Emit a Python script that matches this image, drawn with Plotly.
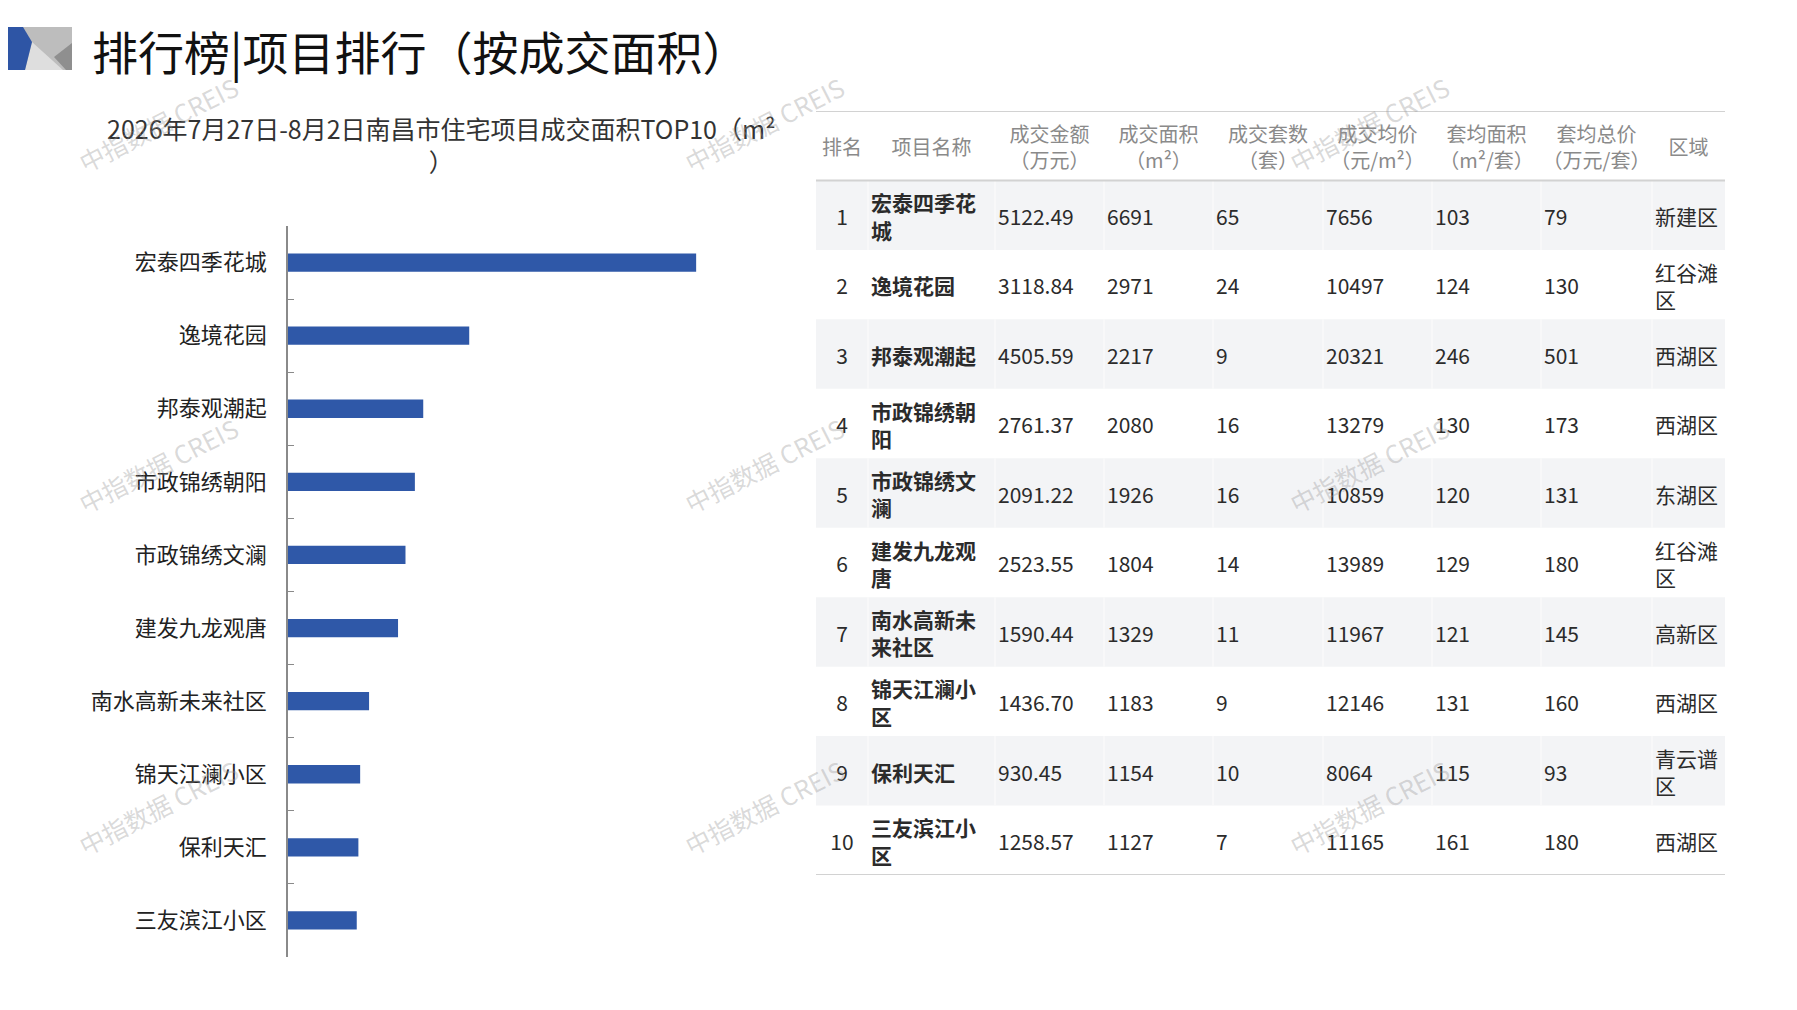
import plotly.graph_objects as go

W, H = 1797, 1010          # browser window
OFF = 8                    # default page body margin
WF, HF = W - 2 * OFF, H - 2 * OFF

# ---------------- data ----------------
projects = ["宏泰四季花城", "逸境花园", "邦泰观潮起", "市政锦绣朝阳", "市政锦绣文澜",
            "建发九龙观唐", "南水高新未来社区", "锦天江澜小区", "保利天汇", "三友滨江小区"]
ranks = [1, 2, 3, 4, 5, 6, 7, 8, 9, 10]
amount = [5122.49, 3118.84, 4505.59, 2761.37, 2091.22, 2523.55, 1590.44, 1436.70, 930.45, 1258.57]
area = [6691, 2971, 2217, 2080, 1926, 1804, 1329, 1183, 1154, 1127]
units = [65, 24, 9, 16, 16, 14, 11, 9, 10, 7]
avg_price = [7656, 10497, 20321, 13279, 10859, 13989, 11967, 12146, 8064, 11165]
avg_area = [103, 124, 246, 130, 120, 129, 121, 131, 115, 161]
avg_total = [79, 130, 501, 173, 131, 180, 145, 160, 93, 180]
district = ["新建区", "红谷滩区", "西湖区", "西湖区", "东湖区",
            "红谷滩区", "高新区", "西湖区", "青云谱区", "西湖区"]
headers = ["排名", "项目名称", "成交金额<br>（万元）", "成交面积<br>（m²）", "成交套数<br>（套）",
           "成交均价<br>（元/m²）", "套均面积<br>（m²/套）", "套均总价<br>（万元/套）", "区域"]

page_title = "排行榜|项目排行（按成交面积）"
chart_title = "2026年7月27日-8月2日南昌市住宅项目成交面积TOP10（m²<br>）"
watermark = "中指数据 CREIS"

# ---------------- style ----------------
FONT = "Noto Sans CJK SC"
BAR_BLUE = "#2F58A8"
col_widths = [52, 127, 109, 109, 110, 109, 109, 111, 73]
TEXT_DY = 0.065            # small downward nudge of table text (row units)


def px(x):
    return (x - OFF) / WF


def py(y):
    return 1 - (y - OFF) / HF


def wrap(s, n):
    return "<br>".join(s[i:i + n] for i in range(0, len(s), n))


fig = go.Figure()

# ---------------- bar chart ----------------
fig.add_trace(go.Bar(
    x=area, y=projects, orientation="h", width=0.25,
    marker=dict(color=BAR_BLUE, line=dict(width=0)),
    hoverinfo="x+y", showlegend=False,
))

# ---------------- table (drawn on its own axes) ----------------
col_left = [sum(col_widths[:i]) for i in range(len(col_widths))]
col_center = [col_left[i] + col_widths[i] / 2 for i in range(len(col_widths))]
table_w = sum(col_widths)
rows = list(range(len(ranks)))

columns = [
    ([str(r) for r in ranks], "center", False),
    ([wrap(p, 5) for p in projects], "left", True),
    (["%.2f" % a for a in amount], "left", False),
    ([str(v) for v in area], "left", False),
    ([str(v) for v in units], "left", False),
    ([str(v) for v in avg_price], "left", False),
    ([str(v) for v in avg_area], "left", False),
    ([str(v) for v in avg_total], "left", False),
    ([wrap(d, 3) for d in district], "left", False),
]

shapes = []
# row shading
for i in rows:
    if i % 2 == 0:
        shapes.append(dict(type="rect", xref="x2", yref="y2", x0=0, x1=table_w,
                           y0=i - 0.5, y1=i + 0.5, fillcolor="#f3f4f6",
                           line=dict(width=0), layer="below"))
        for b in col_left[1:]:
            shapes.append(dict(type="line", xref="x2", yref="y2", x0=b, x1=b,
                               y0=i - 0.5, y1=i + 0.5,
                               line=dict(color="#fafafa", width=1.5), layer="below"))
for yv in (-1.5, -0.5, len(rows) - 0.5):
    shapes.append(dict(type="line", xref="x2", yref="y2", x0=0, x1=table_w,
                       y0=yv, y1=yv, line=dict(color="#d2d2d2", width=2)))

row_y = [r + TEXT_DY for r in rows]
for ci, (vals, al, bold) in enumerate(columns):
    if al == "center":
        xs = [col_center[ci]] * len(rows)
        pos = "middle center"
    else:
        xs = [col_left[ci] + 3] * len(rows)
        pos = "middle right"
    txt = ["<b>%s</b>" % v for v in vals] if bold else vals
    fig.add_trace(go.Scatter(
        x=xs, y=row_y, mode="text", text=txt, textposition=pos,
        textfont=dict(family=FONT, size=21, color="#2b2b2b"),
        xaxis="x2", yaxis="y2", hoverinfo="skip", showlegend=False, cliponaxis=False,
    ))

fig.add_trace(go.Scatter(
    x=col_center, y=[-1 + TEXT_DY] * len(headers), mode="text", text=headers,
    textposition="middle center",
    textfont=dict(family=FONT, size=20, color="#8a8a8a"),
    xaxis="x2", yaxis="y2", hoverinfo="skip", showlegend=False, cliponaxis=False,
))

# ---------------- logo ----------------
def path(pts):
    return "M " + " L ".join("%f,%f" % (px(a), py(b)) for a, b in pts) + " Z"


shapes += [
    dict(type="path", xref="paper", yref="paper",
         path=path([(0, 27), (72, 27), (72, 70), (0, 70)]),
         fillcolor="#bdbdbd", line=dict(width=0)),
    dict(type="path", xref="paper", yref="paper",
         path=path([(32, 42), (63, 70), (25, 70)]),
         fillcolor="#dedede", line=dict(width=0)),
    dict(type="path", xref="paper", yref="paper",
         path=path([(72, 43), (54, 57), (66, 70), (72, 70)]),
         fillcolor="#8f8f8f", line=dict(width=0)),
    dict(type="path", xref="paper", yref="paper",
         path=path([(0, 27), (23, 27), (32, 42), (25, 70), (0, 70)]),
         fillcolor="#2E55A5", line=dict(width=0)),
]

# ---------------- annotations ----------------
annotations = [
    dict(text=page_title, xref="paper", yref="paper", x=px(90), y=py(50),
         xanchor="left", yanchor="middle", showarrow=False,
         font=dict(family=FONT, size=46, color="#111111")),
    dict(text=chart_title, xref="paper", yref="paper", x=px(441), y=py(108),
         xanchor="center", yanchor="top", showarrow=False, align="center",
         font=dict(family=FONT, size=25, color="#333333")),
]
for wy in (124, 465, 807):
    for wx in (158, 764, 1369):
        annotations.append(dict(text=watermark, xref="paper", yref="paper",
                                x=px(wx), y=py(wy), xanchor="center", yanchor="middle",
                                showarrow=False, textangle=-27,
                                font=dict(family=FONT, size=25, color="rgba(150,150,150,0.36)")))

fig.update_layout(
    width=WF, height=HF,
    margin=dict(l=0, r=0, t=0, b=0),
    paper_bgcolor="white", plot_bgcolor="white",
    font=dict(family=FONT),
    showlegend=False,
    xaxis=dict(domain=[px(288), px(776)], range=[0, 8000], visible=False),
    yaxis=dict(domain=[py(957), py(226)], type="category", range=[9.5, -0.5],
               tickson="boundaries", ticks="inside", ticklen=6, tickcolor="#8a8a8a",
               showline=True, linecolor="#8a8a8a", linewidth=1.5, showgrid=False,
               ticklabelstandoff=15,
               tickfont=dict(family=FONT, size=22, color="#222222")),
    xaxis2=dict(domain=[px(816), px(816 + table_w)], range=[0, table_w],
                visible=False, anchor="y2"),
    yaxis2=dict(domain=[py(875), py(111)], range=[len(rows) - 0.5, -1.5],
                visible=False, anchor="x2"),
    shapes=shapes,
    annotations=annotations,
)

fig.write_html("out.html")
